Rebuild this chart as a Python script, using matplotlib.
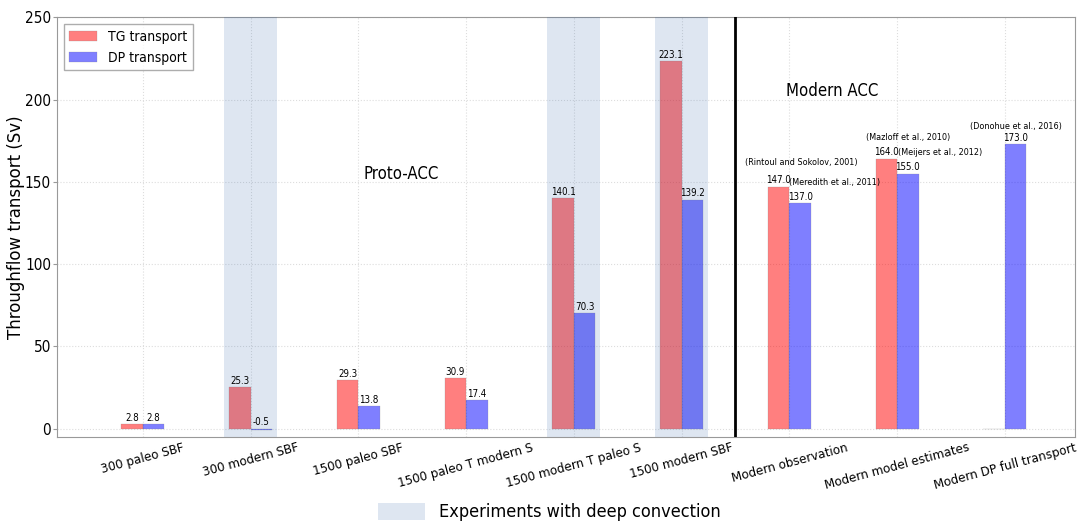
import numpy as np
import matplotlib
matplotlib.use('Agg')
import matplotlib.pyplot as plt
from matplotlib.patches import Patch

plt.rcParams['font.family'] = 'DejaVu Sans'
plt.rcParams['font.stretch'] = 'condensed'

# experiments / estimates
names = ['300 paleo SBF', '300 modern SBF', '1500 paleo SBF', '1500 paleo T modern S',
         '1500 modern T paleo S', '1500 modern SBF', 'Modern observation',
         'Modern model estimates', 'Modern DP full transport']
tg = [2.8, 25.3, 29.3, 30.9, 140.1, 223.1, 147.0, 164.0, 0.0]
dp = [2.8, -0.5, 13.8, 17.4, 70.3, 139.2, 137.0, 155.0, 173.0]
tg_shown = [True, True, True, True, True, True, True, True, False]
deep_conv = [1, 4, 5]

refs = [('(Rintoul and Sokolov, 2001)', 6.11, 159, 'center'),
        ('(Meredith et al., 2011)', 6.0, 147, 'left'),
        ('(Mazloff et al., 2010)', 7.1, 174, 'center'),
        ('(Meijers et al., 2012)', 7.01, 165, 'left'),
        ('(Donohue et al., 2016)', 8.1, 181, 'center')]

x = np.arange(len(names))
w = 0.2
shade = '#1a53a2'

fig = plt.figure(figsize=(10.88, 5.22), dpi=100)
ax = fig.add_axes([0.052, 0.163, 0.936, 0.804])

# shading goes on top of the bars, like the original
for i in deep_conv:
    ax.axvspan(i - 0.245, i + 0.245, color=shade, alpha=0.14, lw=0, zorder=3)

ax.bar(x - w/2, tg, w, color='red', alpha=0.5, edgecolor='gray', linewidth=0.3, label='TG transport', zorder=2)
ax.bar(x + w/2, dp, w, color='blue', alpha=0.5, edgecolor='gray', linewidth=0.3, label='DP transport', zorder=2)

for i in range(len(x)):
    if tg_shown[i]:
        ax.text(x[i] - w/2, max(tg[i], 0) + 0.8, '%.1f' % tg[i], ha='center', va='bottom', fontsize=7, zorder=4)
    ax.text(x[i] + w/2, max(dp[i], 0) + 0.8, '%.1f' % dp[i], ha='center', va='bottom', fontsize=7, zorder=4)

for txt, xx, yy, ha in refs:
    ax.text(xx, yy, txt, ha=ha, va='bottom', fontsize=6.5)

ax.axvline(5.5, color='k', lw=2, zorder=3)
ax.text(2.4, 155, 'Proto-ACC', ha='center', va='center', fontsize=12)
ax.text(6.4, 205, 'Modern ACC', ha='center', va='center', fontsize=12)

ax.set_xlim(-0.8, 8.65)
ax.set_ylim(-5, 250)
ax.set_xticks(x)
ax.set_xticklabels(names, rotation=15, ha='center', fontsize=9.5)
ax.set_yticks(np.arange(0, 251, 50))
ax.tick_params(axis='y', labelsize=11, length=3, pad=1, color='#999999')
ax.tick_params(axis='x', length=0, pad=3)
ax.set_ylabel('Throughflow transport (Sv)', fontsize=12, labelpad=0, fontstretch='normal')
ax.grid(True, color='#dddddd', linestyle=':', linewidth=0.8, zorder=0)
ax.set_axisbelow(True)
for s in ax.spines.values():
    s.set_color('#999999')

leg = ax.legend(loc='upper left', fontsize=10, fancybox=False, edgecolor='#999999')
fig.legend(handles=[Patch(color=shade, alpha=0.14, lw=0)],
           labels=['Experiments with deep convection'], loc='lower center',
           bbox_to_anchor=(0.505, -0.03), frameon=False, fontsize=13,
           handlelength=2.6, handleheight=1.1)

fig.savefig('out.png', dpi=100)
